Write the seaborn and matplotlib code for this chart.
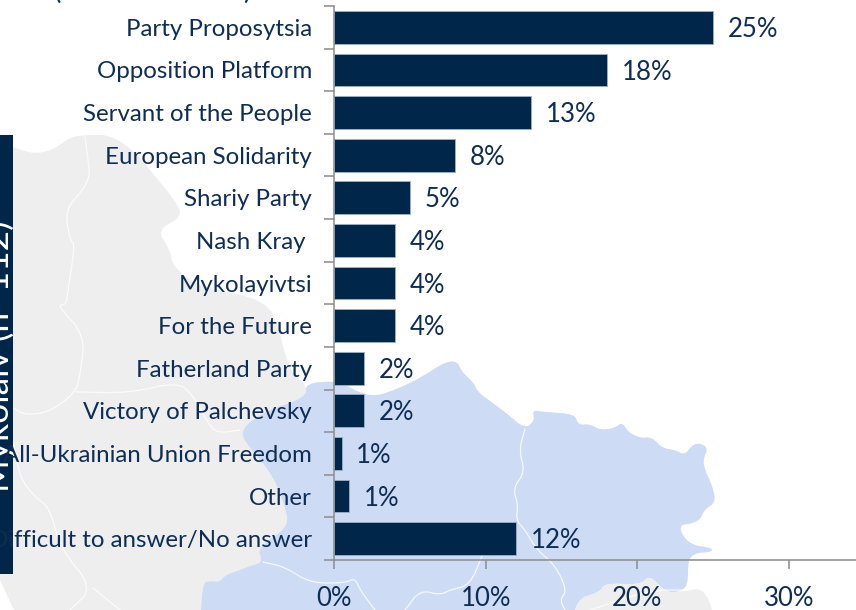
import matplotlib
matplotlib.use("Agg")
import matplotlib.pyplot as plt
import numpy as np
import pandas as pd
import seaborn as sns

# Chart data
parties = [
    "Party Proposytsia", "Opposition Platform", "Servant of the People",
    "European Solidarity", "Shariy Party", "Nash Kray ", "Mykolayivtsi",
    "For the Future", "Fatherland Party", "Victory of Palchevsky",
    "All-Ukrainian Union Freedom", "Other", "Difficult to answer/No answer",
]
shares = [25, 18, 13, 8, 5, 4, 4, 4, 2, 2, 0.5, 1, 12]
share_labels = ["25%", "18%", "13%", "8%", "5%", "4%", "4%", "4%", "2%", "2%", "1%", "1%", "12%"]
x_ticks = [0, 10, 20, 30]
band_title = "Mykolaiv (n=112)"

NAVY = "#002649"
TEXT = "#0e2d54"
AXIS = "#8c8c8c"
W, H = 856, 610

# Background map outlines, in image pixels (bottom corners run past the image edge)
grey_land = [
    (-30, 135), (13, 147), (33, 154), (53, 150), (70, 137), (87, 135), (110, 135), (133, 150),
    (150, 170), (177, 203), (182, 217), (157, 230), (170, 250), (173, 267), (200, 287),
    (267, 300), (280, 332), (283, 348), (293, 375), (305, 383), (307, 397), (263, 412),
    (240, 430), (247, 445), (273, 475), (287, 512), (287, 528), (257, 548), (263, 562),
    (250, 566), (240, 570), (225, 575), (220, 582), (210, 581), (202, 583), (200, 640), (-30, 640),
]
blue_land = [
    (305, 383), (340, 381), (350, 388), (372, 397), (395, 390), (420, 378), (445, 362),
    (457, 361), (462, 372), (473, 382), (478, 392), (490, 401), (505, 412), (525, 429),
    (535, 420), (532, 410), (545, 412), (575, 414), (578, 425), (590, 424), (600, 430),
    (615, 428), (622, 422), (628, 432), (640, 438), (652, 437), (662, 448), (675, 450),
    (685, 455), (692, 445), (700, 443), (708, 448), (703, 460), (705, 470), (712, 485),
    (716, 502), (704, 510), (700, 520), (690, 524), (680, 525), (682, 535), (692, 545),
    (712, 548), (712, 552), (695, 553), (688, 560), (688, 585), (680, 592), (665, 592),
    (650, 575), (640, 585), (605, 583), (600, 592), (575, 600), (572, 640), (200, 640),
    (202, 583), (210, 581), (220, 582), (225, 575), (240, 570), (250, 566), (263, 562),
    (257, 548), (287, 528), (287, 512), (273, 475), (247, 445), (240, 430), (263, 412), (307, 397),
]
grey_patch = [(572, 640), (575, 600), (600, 592), (605, 583), (640, 585), (650, 575), (665, 592),
              (680, 592), (707, 587), (718, 640)]
map_lines = [
    [(85, 137), (88, 160), (90, 175), (83, 190), (65, 210), (70, 240), (75, 245), (68, 290),
     (66, 305), (57, 305), (85, 335), (80, 375), (76, 392), (50, 412), (25, 415), (13, 408)],
    [(76, 392), (130, 393), (177, 382), (193, 395), (210, 427), (220, 433), (240, 430)],
    [(13, 440), (20, 478), (35, 497), (50, 508), (60, 548), (93, 588), (70, 610)],
    [(93, 588), (120, 610)],
    [(263, 562), (285, 567), (310, 583), (345, 583), (355, 578), (360, 590), (375, 610)],
    [(525, 429), (519, 450), (525, 472), (513, 488), (518, 505), (516, 520), (525, 530),
     (537, 550), (555, 565), (567, 590), (560, 600), (565, 610)],
    [(482, 556), (470, 585), (450, 590), (440, 595), (420, 590), (405, 610)],
    [(590, 610), (650, 590), (690, 590)],
]


# Round off the corners of a hand traced outline
def smooth(points, closed=False, rounds=2):
    pts = np.array(points, dtype=float)
    for _ in range(rounds):
        nxt = np.roll(pts, -1, axis=0)
        q = 0.75 * pts + 0.25 * nxt
        r = 0.25 * pts + 0.75 * nxt
        mixed = np.empty((len(pts) * 2, 2))
        mixed[0::2] = q
        mixed[1::2] = r
        if closed:
            pts = mixed
        else:
            pts = np.vstack([pts[0], mixed[:-2], pts[-1]])
    return pts[:, 0], pts[:, 1]


sns.set_theme(style="white")
plt.rcParams["font.family"] = ["Lato", "DejaVu Sans"]

fig = plt.figure(figsize=(W / 100, H / 100), dpi=100, facecolor="white")

# Map layer
bg = fig.add_axes([0, 0, 1, 1], zorder=0)
bg.set_xlim(0, W)
bg.set_ylim(H, 0)
bg.axis("off")
bg.fill(*smooth(grey_land, closed=True), color="#eeeeee", lw=0)
bg.fill(*smooth(blue_land, closed=True), color="#cddbf5", lw=0)
bg.fill(*smooth(grey_patch, closed=True), color="#eeeeee", lw=0)
for line in map_lines:
    bg.plot(*smooth(line), color="white", lw=0.9, alpha=0.8)
bg.add_patch(plt.Rectangle((0, 135), 13, 439, color=NAVY, lw=0, zorder=3))
band_clip = plt.Rectangle((0, 135), 13, 439, transform=bg.transData)
bg.text(15, 356, band_title, rotation=90, color="white", fontsize=25.5, ha="right", va="center",
        zorder=4, clip_path=band_clip, clip_on=True)
bg.text(57, -1, "(", color=TEXT, fontsize=20, ha="center", va="baseline")
bg.text(247, -1, ")", color=TEXT, fontsize=20, ha="center", va="baseline")
bg.set_xlim(0, W)
bg.set_ylim(H, 0)

# Bars
df = pd.DataFrame({"party": parties, "share": shares})
ax = fig.add_axes([334 / W, 1 - 560 / H, (W - 334) / W, 554 / H], zorder=2)
ax.patch.set_alpha(0)
sns.barplot(data=df, x="share", y="party", color=NAVY, saturation=1, width=0.77,
            edgecolor="#9fb0c4", linewidth=0.6, ax=ax)
value_texts = ax.bar_label(ax.containers[0], labels=share_labels, padding=10.5, color=TEXT, fontsize=18.5)
for t in value_texts:
    t.xyann = (t.xyann[0], -1.5)

ax.set_xlim(0, (W - 334) / 15.17)
ax.set_xticks(x_ticks)
ax.set_xticklabels([f"{t}%" for t in x_ticks], fontsize=18.5, color=TEXT)
ax.set_xlabel("")
ax.set_ylabel("")
ax.set_yticks(np.arange(-0.5, len(parties)), minor=True)
ax.tick_params(axis="y", which="minor", left=True, length=7.5, width=1.1, color=AXIS)
ax.tick_params(axis="y", which="major", left=False, pad=9.8, labelsize=17.3, labelcolor=TEXT)
ax.tick_params(axis="x", which="major", bottom=True, length=6.5, width=1.1, color=AXIS, pad=12.5)
sns.despine(ax=ax, top=True, right=True)
for side in ["left", "bottom"]:
    ax.spines[side].set_color(AXIS)
    ax.spines[side].set_linewidth(1.1)
    ax.spines[side].set_visible(True)

fig.savefig("out.png", dpi=100)
